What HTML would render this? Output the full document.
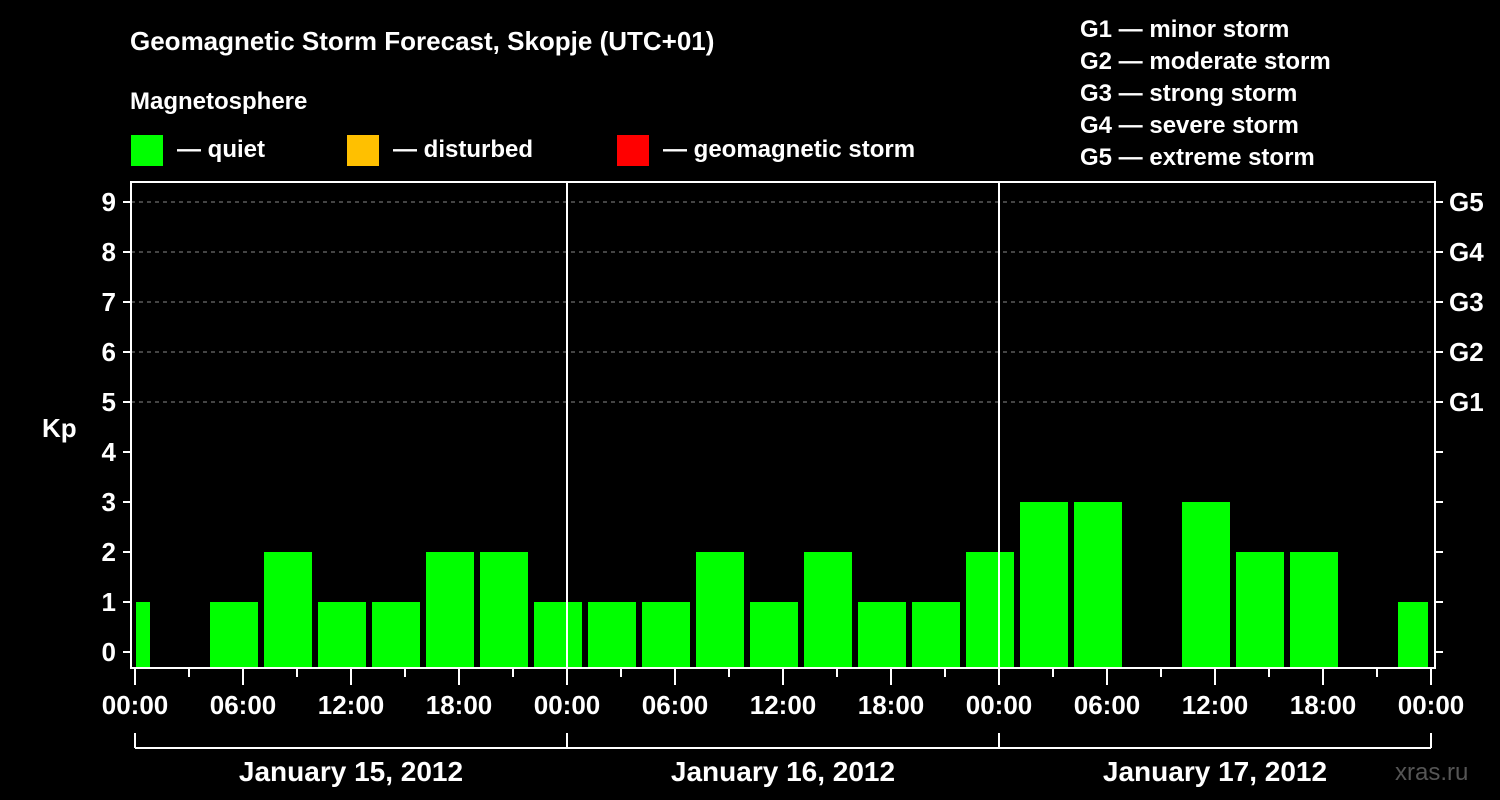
<!DOCTYPE html>
<html><head><meta charset="utf-8"><style>
body{margin:0;background:#000;width:1500px;height:800px;overflow:hidden}
svg{display:block}
text{font-family:"Liberation Sans",Arial,sans-serif;font-weight:bold;fill:#fff}
</style></head><body>
<svg id="chart" width="1500" height="800">
<text x="130" y="50" font-size="26">Geomagnetic Storm Forecast, Skopje (UTC+01)</text>
<text x="130" y="109" font-size="24">Magnetosphere</text>
<g><rect x="131" y="135" width="32" height="31" fill="#00ff00"/><text x="177" y="157" font-size="24">— quiet</text></g>
<g><rect x="347" y="135" width="32" height="31" fill="#ffc000"/><text x="393" y="157" font-size="24">— disturbed</text></g>
<g><rect x="617" y="135" width="32" height="31" fill="#ff0000"/><text x="663" y="157" font-size="24">— geomagnetic storm</text></g>
<g font-size="24">
<text x="1080" y="37">G1 — minor storm</text>
<text x="1080" y="69">G2 — moderate storm</text>
<text x="1080" y="101">G3 — strong storm</text>
<text x="1080" y="133">G4 — severe storm</text>
<text x="1080" y="165">G5 — extreme storm</text>
</g>
<text x="42" y="437" font-size="26">Kp</text>
<text x="1395" y="780" font-size="24" fill="#555" style="fill:#555;font-weight:normal">xras.ru</text>
<g id="plot"></g>
</svg>
<script>
const kpValues=[1,0,1,2,1,1,2,2,1,1,1,2,1,2,1,1,2,3,3,0,3,2,2,0,1];
const barStartHours=[-0.5,2.5,5.5,8.5,11.5,14.5,17.5,20.5,23.5,26.5,29.5,32.5,35.5,38.5,41.5,44.5,47.5,50.5,53.5,56.5,59.5,62.5,65.5,68.5,71.5];
const xTickLabels=["00:00","06:00","12:00","18:00","00:00","06:00","12:00","18:00","00:00","06:00","12:00","18:00","00:00"];
const dayLabels=["January 15, 2012","January 16, 2012","January 17, 2012"];
const yTicks=[0,1,2,3,4,5,6,7,8,9];
const gLabels=["G1","G2","G3","G4","G5"];
const NS="http://www.w3.org/2000/svg";
const g=document.getElementById('plot');
const L=131,R=1435,T=182,B=668;
const x=h=>135+h*18;
const y=v=>652-v*50;
function mk(tag,attrs,parent){const e=document.createElementNS(NS,tag);for(const k in attrs)e.setAttribute(k,attrs[k]);(parent||g).appendChild(e);return e;}
// grid
for(let v=5;v<=9;v++){const l=mk('line',{x1:L,x2:R,y1:y(v),y2:y(v),stroke:'#888','stroke-dasharray':'4,4','stroke-width':1});

}
// bars
kpValues.forEach((v,i)=>{if(v<=0)return;
let x0=x(barStartHours[i])-24,x1=x0+48;x0=Math.max(x0,136);x1=Math.min(x1,1428);
const c=v>=5?'#ff0000':(v>=4?'#ffc000':'#00ff00');
const r=mk('rect',{x:x0,y:y(v),width:x1-x0,height:B-y(v),fill:c});

});
// day dividers
[1,2].forEach(d=>{const l=mk('line',{x1:x(24*d),x2:x(24*d),y1:T,y2:B,stroke:'#fff','stroke-width':2});

});
// frame
const f=mk('rect',{x:L,y:T,width:R-L,height:B-T,fill:'none',stroke:'#fff','stroke-width':2});


// y ticks
yTicks.forEach(v=>{mk('line',{x1:123,x2:L,y1:y(v),y2:y(v),stroke:'#fff','stroke-width':2});
mk('line',{x1:R,x2:1443,y1:y(v),y2:y(v),stroke:'#fff','stroke-width':2});
const t=mk('text',{x:116,y:y(v)+9,'font-size':26,'text-anchor':'end'});t.textContent=v;

});
gLabels.forEach((s,i)=>{const t=mk('text',{x:1449,y:y(5+i)+9,'font-size':26});t.textContent=s;

});
// x ticks
for(let h=0;h<=72;h+=3){const major=h%6===0;mk('line',{x1:x(h),x2:x(h),y1:B,y2:major?685:677,stroke:'#fff','stroke-width':2});}
xTickLabels.forEach((s,i)=>{const t=mk('text',{x:x(i*6),y:714,'font-size':26,'text-anchor':'middle'});t.textContent=s;

});
// day bracket
mk('line',{x1:x(0),x2:x(72),y1:748,y2:748,stroke:'#fff','stroke-width':2});
[0,24,48,72].forEach(h=>mk('line',{x1:x(h),x2:x(h),y1:733,y2:748,stroke:'#fff','stroke-width':2}));
dayLabels.forEach((s,i)=>{const t=mk('text',{x:x(i*24+12),y:781,'font-size':28,'text-anchor':'middle'});t.textContent=s;

});
</script>
</body></html>
